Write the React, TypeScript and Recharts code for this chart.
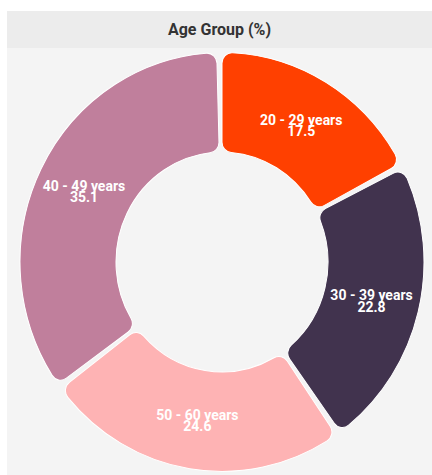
import { PieChart, Pie, Cell } from 'recharts';

const groups = ['20 - 29 years', '30 - 39 years', '50 - 60 years', '40 - 49 years'];
const shares = [17.5, 22.8, 24.6, 35.1];
const COLORS = ['#ff4000', '#41334e', '#feb3b4', '#c07f9c'];

const data = groups.map((name, i) => ({ name, value: shares[i] }));

const RADIAN = Math.PI / 180;
const CX = 215;
const CY = 214;

// two-line label in the middle of the ring
function renderLabel(props: any) {
	const { cx, cy, midAngle, innerRadius, outerRadius, name, value } = props;
	const r = (innerRadius + outerRadius) / 2;
	const x = cx + r * Math.cos(-midAngle * RADIAN);
	const y = cy + r * Math.sin(-midAngle * RADIAN);
	return (
		<text
			x={x}
			y={y}
			fill="#ffffff"
			textAnchor="middle"
			fontFamily="Roboto, sans-serif"
			fontWeight={700}
			fontSize={14}
		>
			<tspan x={x} dy={0}>{name}</tspan>
			<tspan x={x} dy={11}>{value}</tspan>
		</text>
	);
}

export default function App() {
	return (
		<div
			style={{
				position: 'absolute',
				left: 7,
				top: 11,
				width: 425,
				height: 464,
				background: '#f4f4f4',
				fontFamily: 'Roboto, sans-serif',
				overflow: 'hidden',
			}}
		>
			<div
				style={{
					height: 37,
					background: '#ececec',
					display: 'flex',
					alignItems: 'center',
					justifyContent: 'center',
					fontWeight: 700,
					fontSize: 16,
					color: '#333',
				}}
			>
				Age Group (%)
			</div>
			{/* the source ring is a little taller than wide */}
			<div style={{ transform: 'scale(1, 1.037)', transformOrigin: `${CX}px ${CY}px` }}>
				<PieChart width={425} height={427} margin={{ top: 0, right: 0, bottom: 0, left: 0 }}>
					<Pie
						data={data}
						dataKey="value"
						nameKey="name"
						cx={CX}
						cy={CY}
						innerRadius={106}
						outerRadius={202}
						startAngle={90}
						endAngle={-270}
						paddingAngle={1.5}
						cornerRadius={10}
						stroke="#ffffff"
						strokeWidth={1}
						label={renderLabel}
						labelLine={false}
						isAnimationActive={false}
					>
						{data.map((_, idx) => (
							<Cell key={idx} fill={COLORS[idx]} />
						))}
					</Pie>
				</PieChart>
			</div>
		</div>
	);
}
